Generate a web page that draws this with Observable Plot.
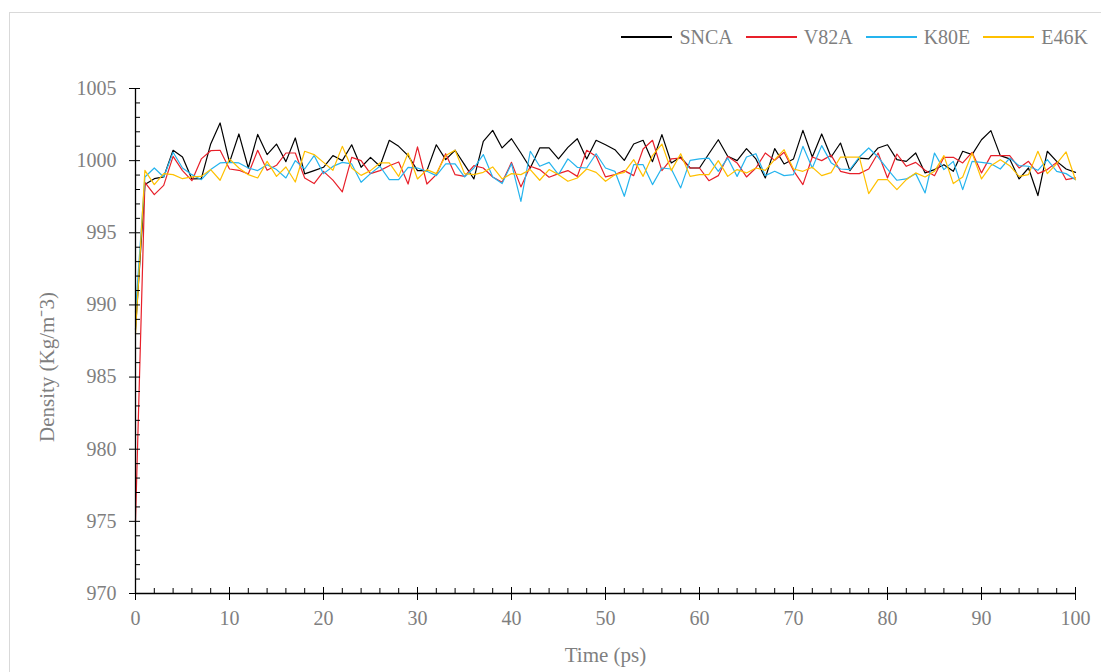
<!DOCTYPE html>
<html>
<head>
<meta charset="utf-8">
<script src="https://cdn.jsdelivr.net/npm/d3@7"></script>
<script src="https://cdn.jsdelivr.net/npm/@observablehq/plot@0.6"></script>
<style>
  html, body { margin: 0; padding: 0; background: #fff; }
  #wrap { position: relative; width: 1101px; height: 672px; overflow: hidden; font-family: "Liberation Serif", "Times New Roman", serif; }
  #frame { position: absolute; left: 9px; top: 12px; width: 1100px; height: 680px; border: 1px solid #d9d9d9; box-sizing: border-box; }
  #legend { position: absolute; top: 25px; right: 13px; display: flex; align-items: center; font-size: 20px; line-height: 24px; color: #7f7f7f; font-family: "Liberation Serif", "Times New Roman", serif; }
  .item { display: flex; align-items: center; margin-left: 13px; }
  .swatch { width: 51px; height: 1.5px; margin-right: 7px; }
  #chart { position: absolute; left: 0; top: 0; }
  #chart svg, #chart svg text { font-family: "Liberation Serif", "Times New Roman", serif !important; }
</style>
</head>
<body>
<div id="wrap">
  <div id="frame"></div>
  <div id="chart"></div>
  <div id="legend"></div>
</div>
<script>
const seriesNames = ["SNCA", "V82A", "K80E", "E46K"];
const seriesColors = ["#000000", "#e8202a", "#25b4ee", "#ffc000"];
const time = d3.range(0, 101);

const SNCA = [988.3, 998.34, 998.75, 998.87, 1000.72, 1000.25, 998.73, 998.75, 1001.16, 1002.61,
  999.88, 1001.85, 999.49, 1001.82, 1000.42, 1001.15, 999.93, 1001.57, 999.08, 999.31,
  999.54, 1000.35, 1000.0, 1001.1, 999.54, 1000.23, 999.61, 1001.41, 1000.99, 1000.35,
  999.31, 999.31, 1001.1, 1000.07, 1000.72, 999.72, 998.73, 1001.34, 1002.1, 1000.88,
  1001.52, 1000.53, 999.49, 1000.88, 1000.88, 1000.12, 1000.92, 1001.52, 1000.12, 1001.41,
  1001.1, 1000.76, 1000.02, 1001.15, 1001.41, 999.93, 1001.8, 999.84, 1000.25, 999.49,
  999.49, 1000.48, 1001.45, 1000.3, 1000.0, 1000.83, 1000.12, 998.8, 1000.83, 999.77,
  1000.12, 1002.1, 1000.25, 1001.85, 1000.25, 1001.22, 999.31, 1000.18, 1000.12, 1000.88,
  1001.1, 1000.07, 999.95, 1000.53, 999.15, 999.38, 999.72, 999.26, 1000.65, 1000.42,
  1001.45, 1002.08, 1000.35, 1000.12, 998.73, 999.49, 997.58, 1000.65, 999.95, 999.42,
  999.19];

const V82A = [975.0, 998.5, 997.64, 998.29, 1000.3, 999.31, 998.61, 1000.12, 1000.69, 1000.72,
  999.42, 999.33, 999.08, 1000.72, 999.33, 999.68, 1000.53, 1000.53, 998.8, 998.41,
  999.26, 998.65, 997.83, 1000.23, 1000.0, 999.1, 999.31, 999.65, 999.91, 998.38,
  1000.95, 998.38, 999.03, 1000.48, 999.03, 998.91, 999.65, 999.49, 998.87, 998.5,
  999.88, 998.18, 999.61, 999.38, 998.85, 999.1, 999.31, 998.91, 1000.72, 1000.3,
  998.87, 999.03, 999.31, 998.96, 1000.81, 1001.41, 999.31, 1000.12, 1000.18, 999.49,
  999.49, 998.61, 998.96, 1000.3, 999.84, 998.87, 999.49, 1000.53, 1000.02, 1000.58,
  999.31, 998.34, 1000.25, 1000.0, 1000.38, 999.26, 999.1, 999.1, 999.42, 1000.53,
  998.8, 1000.46, 999.61, 999.88, 999.33, 998.96, 1000.23, 1000.23, 999.84, 1000.58,
  999.15, 1000.35, 1000.35, 1000.35, 999.49, 999.95, 999.1, 999.38, 999.88, 998.68,
  998.8];

const K80E = [989.5, 998.87, 999.49, 998.87, 1000.58, 999.49, 999.03, 998.68, 999.38, 999.84,
  999.88, 999.84, 999.49, 999.31, 999.72, 999.38, 998.8, 1000.0, 999.42, 1000.35,
  999.1, 999.6, 999.88, 999.77, 998.5, 999.1, 999.61, 998.68, 998.68, 999.54,
  999.49, 999.26, 998.96, 999.77, 999.77, 998.87, 999.49, 1000.42, 998.87, 998.41,
  999.79, 997.18, 1000.65, 999.61, 999.88, 999.03, 1000.12, 999.54, 999.49, 1000.48,
  999.49, 999.26, 997.53, 999.72, 999.72, 998.34, 999.49, 999.42, 998.11, 1000.02,
  1000.12, 1000.18, 999.26, 1000.18, 998.91, 1000.25, 1000.48, 998.96, 999.26, 998.96,
  999.03, 1000.99, 999.49, 1001.04, 999.86, 999.42, 999.38, 1000.25, 1000.88, 1000.25,
  999.42, 998.64, 998.73, 999.1, 997.76, 1000.53, 999.38, 999.95, 997.99, 999.95,
  999.88, 999.79, 999.42, 1000.18, 999.65, 999.61, 999.33, 1000.07, 999.26, 999.1,
  998.68];

const E46K = [988.0, 999.33, 998.34, 999.1, 999.03, 998.75, 998.87, 998.91, 999.38, 998.64,
  1000.12, 999.49, 999.03, 998.8, 999.95, 998.91, 999.56, 998.52, 1000.65, 1000.42,
  999.88, 999.33, 1000.99, 999.49, 998.98, 999.31, 999.84, 999.84, 998.91, 1000.53,
  998.73, 999.38, 999.1, 1000.35, 1000.72, 999.1, 999.03, 999.19, 999.56, 998.73,
  999.1, 999.03, 999.38, 998.64, 999.38, 999.03, 998.57, 998.8, 999.42, 999.19,
  998.57, 999.03, 999.19, 1000.07, 998.91, 1000.35, 1001.15, 999.31, 1000.48, 998.91,
  999.03, 999.03, 1000.0, 998.91, 999.38, 999.15, 999.49, 999.33, 1000.07, 1000.76,
  999.42, 999.26, 999.54, 998.96, 999.17, 1000.25, 1000.25, 1000.25, 997.71, 998.68,
  998.68, 997.99, 998.68, 999.15, 998.87, 999.26, 1000.35, 998.41, 998.87, 1000.53,
  998.73, 999.65, 1000.07, 999.65, 998.91, 999.03, 1000.65, 999.1, 999.79, 1000.6,
  998.68];

const xMajorTicks = [0, 10, 20, 30, 40, 50, 60, 70, 80, 90, 100];
const xMinorTicks = d3.range(2, 100, 2).filter(d => d % 10 !== 0);
const yMajorTicks = [970, 975, 980, 985, 990, 995, 1000, 1005];
const yMinorTicks = d3.range(971, 1005, 1).filter(d => d % 5 !== 0);
const xLabel = "Time (ps)";
const yLabel = "Density (Kg/m\u207B3)";

const allSeries = [SNCA, V82A, K80E, E46K];
const rows = [];
allSeries.forEach((vals, si) => {
  vals.forEach((v, i) => rows.push({series: seriesNames[si], t: time[i], v}));
});

const axisColor = "#000";
const textColor = "#7f7f7f";
const serif = "'Liberation Serif', 'Times New Roman', serif";

const chart = Plot.plot({
  width: 1101,
  height: 672,
  marginLeft: 135,
  marginRight: 26,
  marginTop: 88,
  marginBottom: 79,
  style: {fontFamily: serif, fontSize: "20px", color: textColor, background: "transparent", overflow: "visible"},
  x: {domain: [0, 100]},
  y: {domain: [970, 1005]},
  color: {domain: seriesNames, range: seriesColors},
  marks: [
    Plot.lineY(rows, {x: "t", y: "v", z: "series", stroke: "series", strokeWidth: 1.2}),
    Plot.ruleX([0], {stroke: axisColor, strokeWidth: 1.3}),
    Plot.ruleY([970], {stroke: axisColor, strokeWidth: 1.3}),
    Plot.axisX(xMajorTicks, {tickSize: 7, tickPadding: 10, stroke: axisColor, fill: textColor, fontSize: 20, label: null, tickFormat: d => String(d)}),
    Plot.axisX(xMajorTicks, {tickSize: -6, stroke: axisColor, label: null, tickFormat: () => ""}),
    Plot.axisX(xMinorTicks, {tickSize: -5, stroke: axisColor, label: null, tickFormat: () => ""}),
    Plot.axisY(yMajorTicks, {tickSize: 6, tickPadding: 13, stroke: axisColor, fill: textColor, fontSize: 20, label: null, tickFormat: d => String(d)}),
    Plot.axisY(yMajorTicks, {tickSize: -5, stroke: axisColor, label: null, tickFormat: () => ""}),
    Plot.axisY(yMinorTicks, {tickSize: -5, stroke: axisColor, label: null, tickFormat: () => ""}),
    Plot.text([xLabel], {frameAnchor: "bottom", dy: 62, fill: textColor, fontSize: 21, lineAnchor: "middle"}),
    Plot.text([yLabel], {frameAnchor: "left", rotate: -90, dx: -88, dy: 26, textAnchor: "middle", fill: textColor, fontSize: 21, lineAnchor: "middle"})
  ]
});
document.getElementById("chart").appendChild(chart);

const legend = document.getElementById("legend");
seriesNames.forEach((name, i) => {
  const item = document.createElement("div");
  item.className = "item";
  const sw = document.createElement("div");
  sw.className = "swatch";
  sw.style.backgroundColor = seriesColors[i];
  const label = document.createElement("span");
  label.textContent = name;
  item.appendChild(sw);
  item.appendChild(label);
  legend.appendChild(item);
});
</script>
</body>
</html>
